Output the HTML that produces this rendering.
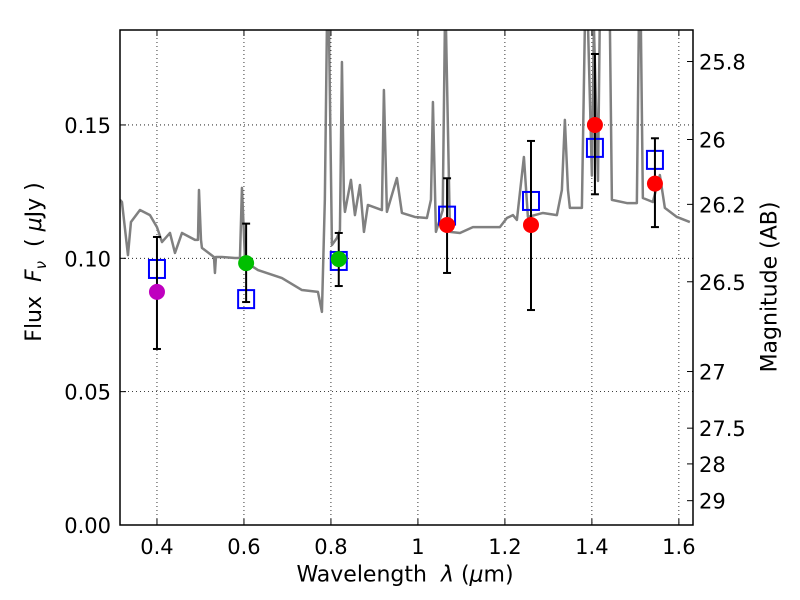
<!DOCTYPE html>
<html><head><meta charset="utf-8"><style>
body{margin:0;background:#fff;}
svg{display:block;font-family:"DejaVu Sans","Liberation Sans",sans-serif;}
</style></head><body>
<svg id="c" width="800" height="600"></svg>
<script>
const specWave=[0.315,0.3195,0.3333,0.3402,0.3609,0.3839,0.4,0.4115,0.4299,0.4414,0.4575,0.4874,0.4943,0.4966,0.5012,0.5034,0.531,0.5333,0.5356,0.5494,0.5793,0.5908,0.5954,0.6023,0.6069,0.6322,0.6874,0.7333,0.7701,0.7793,0.786,0.7908,0.7954,0.8023,0.8138,0.8207,0.8253,0.8299,0.8322,0.846,0.8552,0.8667,0.8759,0.885,0.9172,0.9218,0.9287,0.9517,0.9632,0.9931,1.0207,1.03,1.0345,1.0414,1.057,1.062,1.0644,1.0736,1.0966,1.1264,1.1885,1.2046,1.2184,1.2276,1.2437,1.2529,1.2874,1.3195,1.331,1.3379,1.345,1.3494,1.377,1.3839,1.391,1.4,1.4046,1.414,1.418,1.425,1.4414,1.446,1.4805,1.5034,1.508,1.5126,1.5172,1.5402,1.5563,1.5678,1.5954,1.6253];
const specFlux=[0.1219,0.1211,0.1012,0.1136,0.1181,0.1162,0.1117,0.1061,0.1095,0.102,0.1095,0.1069,0.1069,0.1256,0.1069,0.1039,0.1005,0.0945,0.1005,0.1005,0.1001,0.1001,0.1264,0.1001,0.0982,0.0956,0.0926,0.0881,0.0874,0.0799,0.122,0.1875,0.1875,0.105,0.1076,0.1106,0.1736,0.122,0.1174,0.1294,0.1162,0.1275,0.1099,0.12,0.1181,0.1631,0.1174,0.1301,0.117,0.1155,0.1151,0.122,0.1586,0.1099,0.118,0.1875,0.1875,0.1099,0.1095,0.1117,0.1117,0.1151,0.1162,0.1144,0.138,0.1155,0.117,0.1162,0.1256,0.1519,0.1256,0.1189,0.1189,0.1875,0.1875,0.131,0.1875,0.129,0.1875,0.1875,0.1875,0.1219,0.1207,0.1207,0.1875,0.1875,0.1226,0.1211,0.1312,0.1189,0.1155,0.1136];
const obsWave=[0.400,0.605,0.818,1.067,1.26,1.407,1.545];
const obsFlux=[0.0874,0.0982,0.0997,0.1125,0.1125,0.150,0.128];
const errLo=[0.066,0.0836,0.0896,0.0945,0.0806,0.124,0.1117];
const errHi=[0.108,0.113,0.1095,0.130,0.144,0.1766,0.145];
const obsColor=['#bf00bf','#00bf00','#00bf00','#ff0000','#ff0000','#ff0000','#ff0000'];
const modelFlux=[0.096,0.0847,0.099,0.116,0.1215,0.1414,0.1369];
const xTicks=[0.4,0.6,0.8,1.0,1.2,1.4,1.6];
const xLabels=['0.4','0.6','0.8','1','1.2','1.4','1.6'];
const yTicks=[0,0.05,0.10,0.15];
const yLabels=['0.00','0.05','0.10','0.15'];
const magTicks=[25.8,26,26.2,26.5,27,27.5,28,29];
const magLabels=['25.8','26','26.2','26.5','27','27.5','28','29'];

const L=120,R=693,T=30,B=525;
const X0=0.315,X1=1.6325,Y0=0,Y1=0.1856;
const sx=v=>L+(v-X0)/(X1-X0)*(R-L);
const sy=v=>B-(v-Y0)/(Y1-Y0)*(B-T);
const svg=document.getElementById('c');
const NS='http://www.w3.org/2000/svg';
function mk(tag,attrs,parent){const e=document.createElementNS(NS,tag);for(const k in attrs)e.setAttribute(k,attrs[k]);(parent||svg).appendChild(e);return e;}
const defs=mk('defs',{});const cp=mk('clipPath',{id:'clip'},defs);mk('rect',{x:L,y:T,width:R-L,height:B-T},cp);

xTicks.forEach((v,i)=>{const x=sx(v);
 const g=mk('line',{x1:x,x2:x,y1:T,y2:B,stroke:'#000','stroke-width':0.8,'stroke-dasharray':'1,3'});
 
 mk('line',{x1:x,x2:x,y1:B,y2:B-6,stroke:'#000'});mk('line',{x1:x,x2:x,y1:T,y2:T+6,stroke:'#000'});
 const t=mk('text',{x:x,y:B+29,'font-size':21,'text-anchor':'middle'});t.textContent=xLabels[i];
 });
yTicks.forEach((v,i)=>{const y=sy(v);
 const g=mk('line',{x1:L,x2:R,y1:y,y2:y,stroke:'#000','stroke-width':0.8,'stroke-dasharray':'1,3'});
 
 mk('line',{x1:L,x2:L+6,y1:y,y2:y,stroke:'#000'});
 const t=mk('text',{x:L-9,y:y+8,'font-size':21,'text-anchor':'end'});t.textContent=yLabels[i];
 });
magTicks.forEach((m,i)=>{const y=sy(Math.pow(10,(23.9-m)/2.5));
 mk('line',{x1:R,x2:R-6,y1:y,y2:y,stroke:'#000'});
 const t=mk('text',{x:R+6,y:y+8,'font-size':21});t.textContent=magLabels[i];
 });

const sp=mk('polyline',{points:specWave.map((w,i)=>sx(w)+','+sy(specFlux[i])).join(' '),fill:'none',stroke:'#808080','stroke-width':2.5,'stroke-linejoin':'round','clip-path':'url(#clip)'});


modelFlux.forEach((f,i)=>{const r=mk('rect',{x:sx(obsWave[i])-8,y:sy(f)-9,width:16,height:18,fill:'none',stroke:'#0000ff','stroke-width':2});
 });
obsWave.forEach((w,i)=>{const x=sx(w);
 const e=mk('line',{x1:x,x2:x,y1:sy(errHi[i]),y2:sy(errLo[i]),stroke:'#000','stroke-width':2});
 
 mk('line',{x1:x-4,x2:x+4,y1:sy(errHi[i]),y2:sy(errHi[i]),stroke:'#000','stroke-width':2});
 mk('line',{x1:x-4,x2:x+4,y1:sy(errLo[i]),y2:sy(errLo[i]),stroke:'#000','stroke-width':2});
 const c=mk('circle',{cx:x,cy:sy(obsFlux[i]),r:8,fill:obsColor[i]});
 });

const fr=mk('rect',{x:L,y:T,width:R-L,height:B-T,fill:'none',stroke:'#000','stroke-width':1.5});

</script>
<div style="position:absolute;left:0;top:0;width:800px;height:600px;pointer-events:none;font-family:'DejaVu Sans','Liberation Sans',sans-serif;">
<div style="position:absolute;left:405px;top:575px;font-size:22px;transform:translate(-50%,-50%);white-space:nowrap;">Wavelength &nbsp;<i>λ</i> (<i>μ</i>m)</div>
<div style="position:absolute;left:36px;top:262px;font-size:22px;transform:translate(-50%,-50%) rotate(-90deg);white-space:nowrap;">Flux &nbsp;<i>F<sub style="font-size:15px">ν</sub></i> &nbsp;( <i>μ</i>Jy )</div>
<div style="position:absolute;left:770px;top:287px;font-size:22px;transform:translate(-50%,-50%) rotate(-90deg);white-space:nowrap;">Magnitude (AB)</div>
</div>
</body></html>
